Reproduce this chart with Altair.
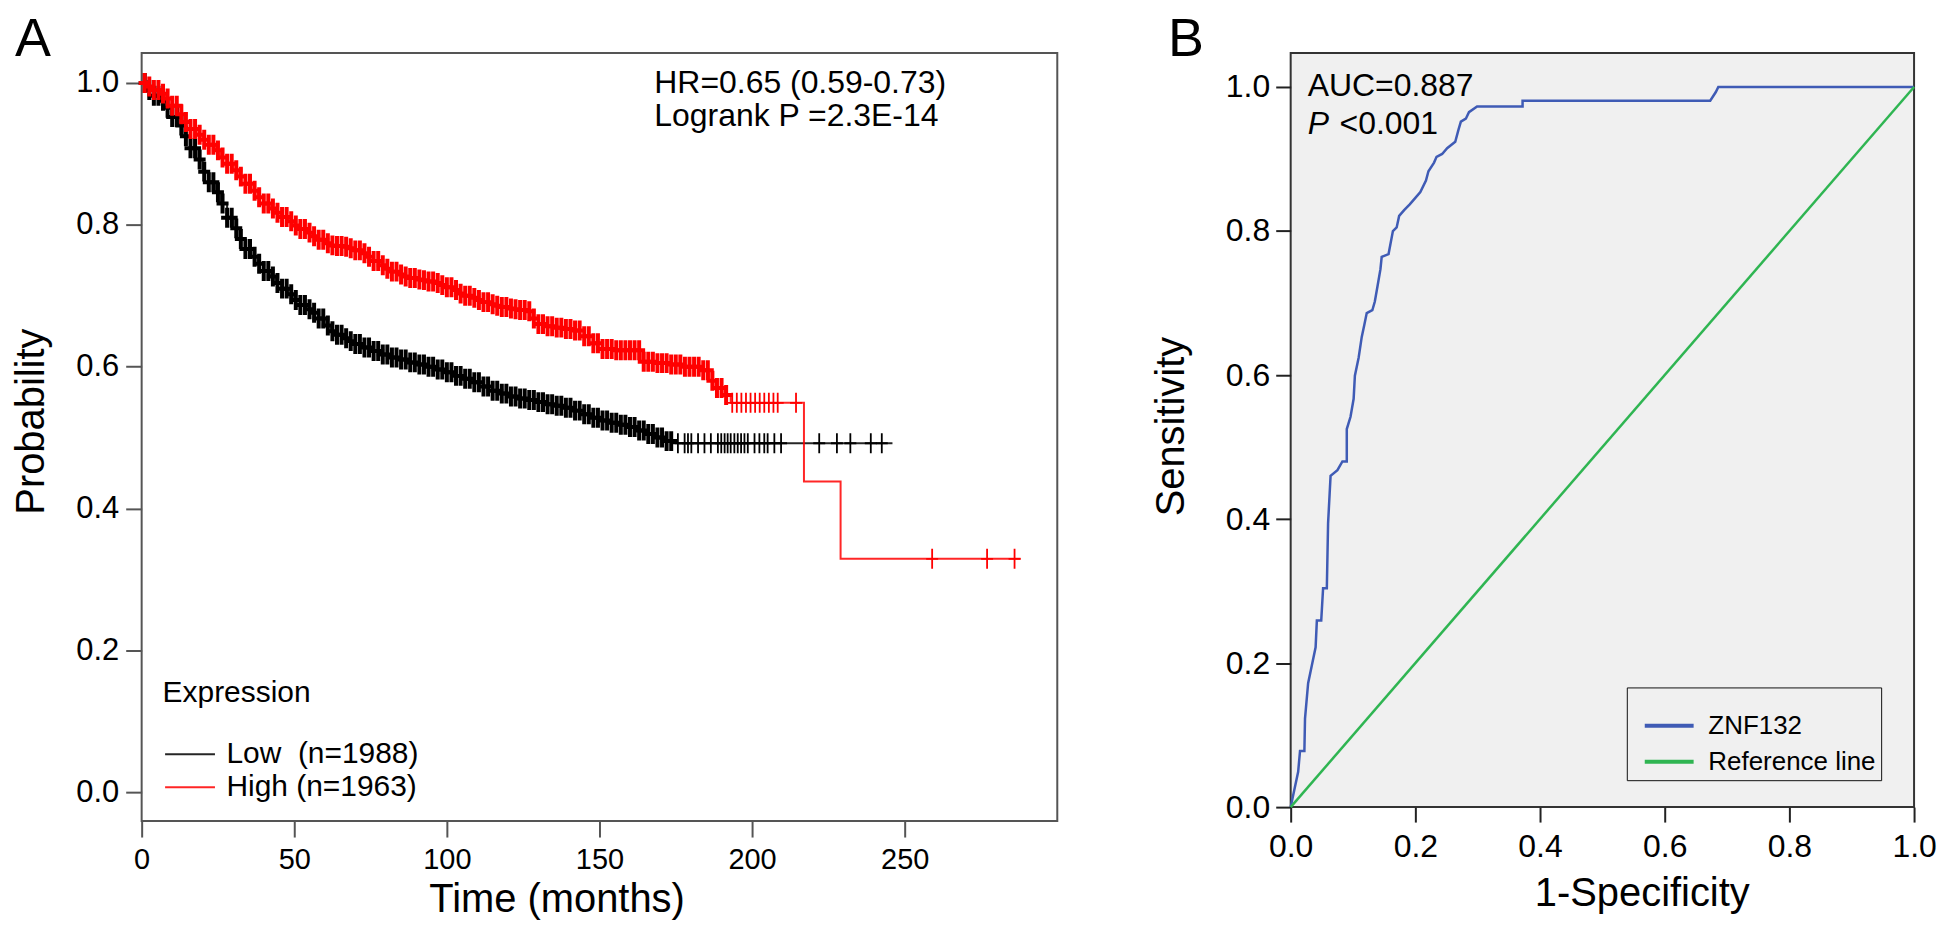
import altair as alt
import pandas as pd

FONT = "Liberation Sans"

# ---------------- Panel A: Kaplan-Meier curves ----------------
low_label = "Low\u00a0 (n=1988)"
high_label = "High (n=1963)"

low_t = [0, 2, 4, 6, 8, 10, 12, 14, 16, 18, 20, 22, 24, 26, 28, 30, 32, 34, 36, 38,
         40, 42, 44, 46, 48, 50, 52, 54, 56, 58, 60, 62, 64, 66, 68, 70,
         73, 76, 79, 82, 85, 88, 91, 94, 97, 100, 103, 106, 109, 112, 115, 118, 121, 124,
         127, 130, 133, 136, 139, 142, 145, 148, 151, 154, 157, 160, 163, 166, 169, 172, 175, 246]
low_s = [1.0, 0.99, 0.982, 0.975, 0.965, 0.952, 0.94, 0.925, 0.908, 0.892, 0.875, 0.86, 0.846,
         0.83, 0.81, 0.795, 0.78, 0.766, 0.755, 0.745, 0.735, 0.727, 0.718, 0.71, 0.702, 0.694,
         0.687, 0.681, 0.676, 0.668, 0.658, 0.65, 0.645, 0.64, 0.636, 0.632,
         0.627, 0.622, 0.617, 0.613, 0.61, 0.606, 0.603, 0.6, 0.596, 0.592, 0.587, 0.583, 0.578,
         0.572, 0.566, 0.562, 0.558, 0.555, 0.553, 0.55, 0.547, 0.545, 0.542, 0.538, 0.533, 0.528,
         0.524, 0.521, 0.518, 0.515, 0.51, 0.505, 0.5, 0.495, 0.492, 0.492]

high_t = [0, 2, 4, 6, 8, 10, 12, 14, 16, 18, 20, 22, 24, 26, 28, 30, 32, 34, 36, 38, 40, 42,
          44, 46, 48, 50, 52, 54, 56, 58, 60, 62, 64, 66, 68, 70, 72, 74, 76, 78, 80, 82, 84,
          86, 88, 90, 92, 94, 96, 98, 100, 102, 104, 106, 108, 110, 112, 114, 116, 118, 120,
          122, 124, 126, 128, 130, 133, 136, 139, 142, 145, 148, 151, 155, 160, 164, 168, 173,
          178, 183, 186, 188, 191, 193, 217, 229, 288]
high_s = [1.0, 0.995, 0.99, 0.985, 0.978, 0.968, 0.956, 0.945, 0.935, 0.927, 0.92, 0.913, 0.905,
          0.895, 0.886, 0.877, 0.868, 0.858, 0.848, 0.839, 0.83, 0.823, 0.817, 0.811, 0.805, 0.799,
          0.794, 0.789, 0.784, 0.779, 0.774, 0.771, 0.77, 0.769, 0.767, 0.764, 0.76, 0.755, 0.749,
          0.743, 0.738, 0.734, 0.73, 0.727, 0.725, 0.723, 0.722, 0.72, 0.718, 0.715, 0.712, 0.708,
          0.703, 0.7, 0.697, 0.694, 0.691, 0.688, 0.686, 0.684, 0.682, 0.681, 0.68, 0.678,
          0.668, 0.66, 0.657, 0.655, 0.653, 0.651, 0.643, 0.633, 0.625, 0.623, 0.623, 0.607,
          0.605, 0.603, 0.6, 0.595, 0.58, 0.57, 0.56, 0.549, 0.438, 0.329, 0.329]

# censoring times (the "+" marks): dense part and sparse tail
low_cens_dense = [1, 2.5, 4, 5.5, 7, 8.5, 10, 11.5, 13, 14.5, 16, 17.5, 19, 20.5, 22, 23.5, 25,
                  26.5, 28, 29.5, 31, 32.5, 34, 35.5, 37, 38.5, 40, 41.5, 43, 44.5, 46, 47.5, 49,
                  50.5, 52, 53.5, 55, 56.5, 58, 59.5, 61, 62.5, 64, 65.5, 67, 68.5, 70, 71.5, 73,
                  74.5, 76, 77.5, 79, 80.5, 82, 83.5, 85, 86.5, 88, 89.5, 91, 92.5, 94, 95.5, 97,
                  98.5, 100, 101.5, 103, 104.5, 106, 107.5, 109, 110.5, 112, 113.5, 115, 116.5, 118,
                  119.5, 121, 122.5, 124, 125.5, 127, 128.5, 130, 131.5, 133, 134.5, 136, 137.5,
                  139, 140.5, 142, 143.5, 145, 146.5, 148, 149.5, 151, 152.5, 154, 155.5, 157,
                  158.5, 160, 161.5, 163, 164.5, 166, 167.5, 169, 170.5, 172, 173.5]
low_cens_tail = [175.7, 177.9, 179, 180.1, 182.3, 184.4, 186.5, 188.8, 189.9, 191, 192, 193,
                 194.2, 195.3, 196.4, 197.5, 198.6, 200.8, 202.4, 204, 205.1, 207.3, 209.5, 222,
                 227.8, 232.2, 238.9, 242.5]
high_cens_dense = [1, 2.5, 4, 5.5, 7, 8.5, 10, 11.5, 13, 14.5, 16, 17.5, 19, 20.5, 22, 23.5, 25,
                   26.5, 28, 29.5, 31, 32.5, 34, 35.5, 37, 38.5, 40, 41.5, 43, 44.5, 46, 47.5, 49,
                   50.5, 52, 53.5, 55, 56.5, 58, 59.5, 61, 62.5, 64, 65.5, 67, 68.5, 70, 71.5, 73,
                   74.5, 76, 77.5, 79, 80.5, 82, 83.5, 85, 86.5, 88, 89.5, 91, 92.5, 94, 95.5, 97,
                   98.5, 100, 101.5, 103, 104.5, 106, 107.5, 109, 110.5, 112, 113.5, 115, 116.5,
                   118, 119.5, 121, 122.5, 124, 125.5, 127, 128.5, 130, 131.5, 133, 134.5, 136,
                   137.5, 139, 140.5, 142, 143.5, 145, 146.5, 148, 149.5, 151, 152.5, 154, 155.5,
                   157, 158.5, 160, 161.5, 163, 164.5, 166, 167.5, 169, 170.5, 172, 173.5, 175,
                   176.5, 178, 179.5, 181, 182.5, 184, 185.5, 187, 188.5, 190, 191.5]
high_cens_tail = [193.5, 195, 196.5, 198, 199.5, 201, 202.5, 204, 205.5, 207, 208.4, 214.4, 259,
                  277, 286]

km_notes = ["HR=0.65 (0.59-0.73)", "Logrank P =2.3E-14"]

# ---------------- Panel B: ROC curve ----------------
roc_label = "ZNF132"
ref_label = "Reference line"
roc_fpr = [0.0, 0.012, 0.015, 0.022, 0.023, 0.028, 0.034, 0.040, 0.042, 0.049, 0.052, 0.058,
           0.060, 0.064, 0.075, 0.083, 0.090, 0.090, 0.096, 0.101, 0.103, 0.109, 0.114, 0.118,
           0.122, 0.131, 0.135, 0.139, 0.144, 0.146, 0.157, 0.164, 0.170, 0.174, 0.182, 0.191,
           0.200, 0.208, 0.217, 0.221, 0.230, 0.234, 0.243, 0.251, 0.264, 0.269, 0.273, 0.281,
           0.286, 0.299, 0.372, 0.372, 0.673, 0.682, 0.686, 1.0]
roc_tpr = [0.0, 0.049, 0.078, 0.078, 0.123, 0.172, 0.197, 0.222, 0.259, 0.259, 0.304, 0.304,
           0.394, 0.460, 0.468, 0.480, 0.480, 0.525, 0.542, 0.567, 0.599, 0.624, 0.653, 0.669,
           0.686, 0.690, 0.702, 0.722, 0.747, 0.764, 0.768, 0.800, 0.805, 0.821, 0.829, 0.837,
           0.846, 0.854, 0.870, 0.883, 0.895, 0.903, 0.907, 0.915, 0.924, 0.940, 0.952, 0.956,
           0.965, 0.973, 0.973, 0.981, 0.981, 0.993, 1.0, 1.0]
ref_fpr = [0.0, 1.0]
ref_tpr = [0.0, 1.0]
roc_notes = ["AUC=0.887", "P", "<0.001"]


def step_at(times, surv, t):
    v = surv[0]
    for ti, si in zip(times, surv):
        if ti <= t:
            v = si
        else:
            break
    return v


def cens_frame(low_list, high_list):
    return pd.DataFrame({
        "time": low_list + high_list,
        "surv": [step_at(low_t, low_s, c) for c in low_list]
                + [step_at(high_t, high_s, c) for c in high_list],
        "group": [low_label] * len(low_list) + [high_label] * len(high_list),
    })


km_df = pd.DataFrame({
    "time": low_t + high_t,
    "surv": low_s + high_s,
    "group": [low_label] * len(low_t) + [high_label] * len(high_t),
})
dense_df = cens_frame(low_cens_dense, high_cens_dense)
tail_df = cens_frame(low_cens_tail, high_cens_tail)
roc_df = pd.DataFrame({
    "fpr": roc_fpr + ref_fpr,
    "tpr": roc_tpr + ref_tpr,
    "series": [roc_label] * len(roc_fpr) + [ref_label] * len(ref_fpr),
    "ord": list(range(len(roc_fpr))) + list(range(len(ref_fpr))),
})
one = pd.DataFrame({"k": [0]})

# ---------------- Panel A chart ----------------
x_a = alt.X("time:Q", scale=alt.Scale(domain=[0, 300], nice=False, zero=False),
            axis=alt.Axis(values=[0, 50, 100, 150, 200, 250], format="d", title="Time (months)",
                          labelFontSize=29, labelPadding=9, tickSize=16, tickWidth=2,
                          tickColor="#555555", labelFlush=False, labelOverlap=False,
                          titleFontSize=40, titleX=416, titleY=91, titleBaseline="alphabetic",
                          titleAlign="center"))
y_a = alt.Y("surv:Q", scale=alt.Scale(domain=[-0.0408, 1.0422], nice=False, zero=False),
            axis=alt.Axis(values=[0, 0.2, 0.4, 0.6, 0.8, 1.0], format=".1f", title="Probability",
                          labelFontSize=31, labelPadding=7, tickSize=16, tickWidth=2,
                          tickColor="#555555", titleFontSize=40, titleX=-98, titleY=369,
                          titleAngle=270, titleBaseline="alphabetic", titleAlign="center"))
color_a_scale = alt.Scale(domain=[low_label, high_label], range=["#000000", "#ff0000"])

lines_a = alt.Chart(km_df).mark_line(interpolate="step-after", strokeWidth=2, opacity=0.85).encode(
    x=x_a, y=y_a,
    color=alt.Color("group:N", scale=color_a_scale,
                    legend=alt.Legend(title="Expression", titleFontSize=30, titleFontWeight="normal",
                                      titleColor="black", titlePadding=31, orient="none",
                                      legendX=21, legendY=627, padding=0,
                                      symbolType="M-1,0H3", symbolSize=625, symbolStrokeWidth=2,
                                      labelOffset=34, labelFontSize=30, labelColor="black",
                                      labelLimit=500, rowPadding=3)),
    order="time:Q",
)
cross_dense = alt.Chart(dense_df).mark_point(shape="M-0.6,0H0.6M0,-1V1", size=400, strokeWidth=4,
                                             filled=False, opacity=1).encode(
    x="time:Q", y="surv:Q",
    color=alt.Color("group:N", scale=color_a_scale, legend=None),
)
cross_tail = alt.Chart(tail_df).mark_point(shape="M-0.6,0H0.6M0,-1V1", size=400, strokeWidth=1.8,
                                           filled=False, opacity=1).encode(
    x="time:Q", y="surv:Q",
    color=alt.Color("group:N", scale=color_a_scale, legend=None),
)
note_a1 = alt.Chart(one).mark_text(align="left", baseline="alphabetic", fontSize=32, font=FONT,
                                   color="black").encode(
    x=alt.value(514), y=alt.value(40), text=alt.value(km_notes[0]))
note_a2 = alt.Chart(one).mark_text(align="left", baseline="alphabetic", fontSize=32, font=FONT,
                                   color="black").encode(
    x=alt.value(514), y=alt.value(73), text=alt.value(km_notes[1]))

chart_a = alt.layer(lines_a, cross_dense, cross_tail, note_a1, note_a2).properties(
    width=918, height=770,
    title=alt.TitleParams("A", anchor="start", frame="group", dx=-127, fontSize=54,
                          baseline="alphabetic", offset=-57, font=FONT, fontWeight="normal",
                          color="black"),
    view=alt.ViewBackground(stroke="#555555", strokeWidth=2, fill="white"),
)

# ---------------- Panel B chart ----------------
x_b = alt.X("fpr:Q", scale=alt.Scale(domain=[0, 1], nice=False, zero=False),
            axis=alt.Axis(values=[0, 0.2, 0.4, 0.6, 0.8, 1.0], format=".1f", title="1-Specificity",
                          labelFontSize=32, labelPadding=10, tickSize=15, tickWidth=2,
                          tickColor="#222222", labelFlush=False, labelOverlap=False,
                          titleFontSize=40, titleX=352, titleY=99, titleBaseline="alphabetic",
                          titleAlign="center"))
y_b = alt.Y("tpr:Q", scale=alt.Scale(domain=[0, 1.0471], nice=False, zero=False),
            axis=alt.Axis(values=[0, 0.2, 0.4, 0.6, 0.8, 1.0], format=".1f", title="Sensitivity",
                          labelFontSize=32, labelPadding=6, tickSize=15, tickWidth=2,
                          tickColor="#222222", titleFontSize=40, titleX=-107, titleY=374,
                          titleAngle=270, titleBaseline="alphabetic", titleAlign="center"))

lines_b = alt.Chart(roc_df).mark_line(strokeWidth=2.5).encode(
    x=x_b, y=y_b,
    color=alt.Color("series:N",
                    scale=alt.Scale(domain=[roc_label, ref_label], range=["#3f5bb5", "#2fb552"]),
                    legend=alt.Legend(title="\u00a0" * 54, titleFontSize=18, titlePadding=1,
                                      titleLimit=600, orient="none", legendX=337, legendY=636,
                                      padding=5, fillColor="#f0f0f0", strokeColor="#111111",
                                      symbolType="M-1,0H3", symbolSize=600, symbolStrokeWidth=4,
                                      symbolOffset=10.75, labelOffset=37, labelFontSize=26,
                                      labelColor="black", labelLimit=500, rowPadding=8)),
    order="ord:Q",
)
note_b1 = alt.Chart(one).mark_text(align="left", baseline="alphabetic", fontSize=32, font=FONT,
                                   color="black").encode(
    x=alt.value(17), y=alt.value(43), text=alt.value(roc_notes[0]))
note_b2 = alt.Chart(one).mark_text(align="left", baseline="alphabetic", fontSize=32, font=FONT,
                                   fontStyle="italic", color="black").encode(
    x=alt.value(17), y=alt.value(81), text=alt.value(roc_notes[1]))
note_b3 = alt.Chart(one).mark_text(align="left", baseline="alphabetic", fontSize=32, font=FONT,
                                   color="black").encode(
    x=alt.value(49), y=alt.value(81), text=alt.value(roc_notes[2]))

chart_b = alt.layer(lines_b, note_b1, note_b2, note_b3).properties(
    width=625, height=756,
    title=alt.TitleParams("B", anchor="start", frame="group", dx=-123, fontSize=54,
                          baseline="alphabetic", offset=-57, font=FONT, fontWeight="normal",
                          color="black"),
    view=alt.ViewBackground(stroke="#333333", strokeWidth=2, fill="#f0f0f0"),
)

chart = alt.hconcat(chart_a, chart_b, spacing=234, bounds="flush").resolve_scale(
    color="independent"
).properties(padding={"left": 3, "top": 3, "right": 0, "bottom": 0}).configure_axis(
    labelFont=FONT, titleFont=FONT, labelColor="black", titleColor="black",
    titleFontWeight="normal", grid=False, domain=False,
).configure_legend(
    labelFont=FONT, titleFont=FONT,
).configure_title(font=FONT)

chart.save("out.html", embed_options={"renderer": "svg", "actions": False})
